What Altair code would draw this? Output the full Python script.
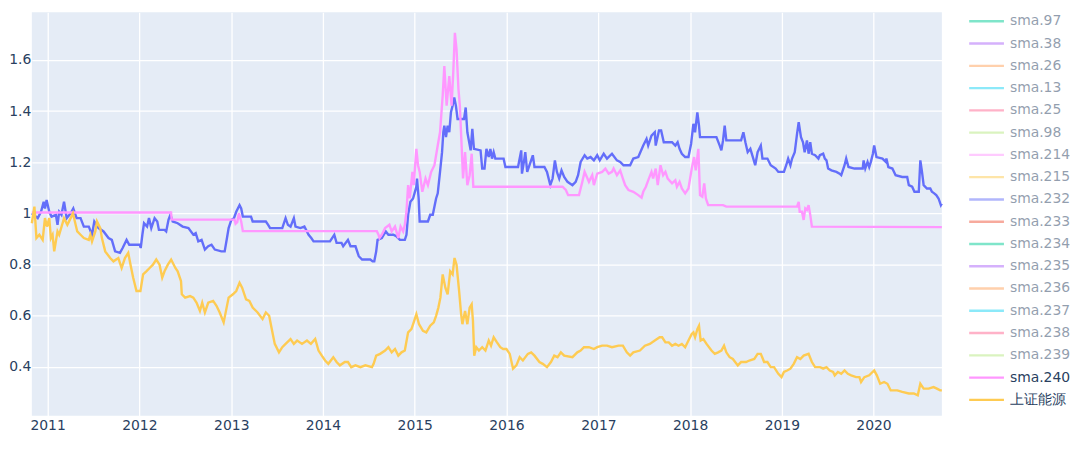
import altair as alt
import pandas as pd

# ---- data: (decimal year, value) ----
X_START = 2010.828
X_END = 2020.743
Y_MIN = 0.208
Y_MAX = 1.786

sma38 = [
    (2010.828, 1.000), (2010.892, 0.981), (2010.928, 1.006), (2010.957, 1.045), (2010.971, 1.019),
    (2010.989, 1.052), (2011.018, 1.006), (2011.043, 0.987), (2011.090, 0.994), (2011.108, 0.955),
    (2011.126, 1.006), (2011.151, 0.994), (2011.179, 1.045), (2011.208, 0.981), (2011.251, 1.000),
    (2011.280, 1.019), (2011.316, 0.981), (2011.359, 0.981), (2011.395, 0.948), (2011.449, 0.948),
    (2011.484, 0.916), (2011.509, 0.968), (2011.556, 0.942), (2011.610, 0.929), (2011.664, 0.903),
    (2011.700, 0.896), (2011.736, 0.851), (2011.789, 0.845), (2011.818, 0.864), (2011.861, 0.896),
    (2011.890, 0.877), (2012.005, 0.877), (2012.015, 0.864), (2012.033, 0.916), (2012.051, 0.961),
    (2012.084, 0.948), (2012.105, 0.981), (2012.130, 0.942), (2012.166, 0.981), (2012.195, 0.968),
    (2012.213, 0.935), (2012.274, 0.935), (2012.292, 0.929), (2012.317, 0.974), (2012.338, 0.994),
    (2012.363, 0.968), (2012.417, 0.961), (2012.471, 0.948), (2012.534, 0.942), (2012.587, 0.916),
    (2012.613, 0.922), (2012.641, 0.890), (2012.677, 0.896), (2012.713, 0.858), (2012.749, 0.871),
    (2012.785, 0.877), (2012.821, 0.858), (2012.892, 0.851), (2012.928, 0.851), (2012.953, 0.903),
    (2012.971, 0.942), (2013.000, 0.974), (2013.029, 0.981), (2013.054, 1.006), (2013.090, 1.032),
    (2013.108, 1.019), (2013.126, 0.987), (2013.215, 0.987), (2013.233, 0.968), (2013.377, 0.968),
    (2013.402, 0.955), (2013.423, 0.942), (2013.520, 0.942), (2013.556, 0.942), (2013.592, 0.981),
    (2013.617, 0.955), (2013.646, 0.948), (2013.682, 0.981), (2013.700, 0.948), (2013.753, 0.942),
    (2013.797, 0.948), (2013.843, 0.916), (2013.872, 0.903), (2013.897, 0.890), (2014.076, 0.890),
    (2014.123, 0.916), (2014.148, 0.884), (2014.202, 0.884), (2014.220, 0.871), (2014.272, 0.896),
    (2014.300, 0.871), (2014.354, 0.871), (2014.390, 0.832), (2014.426, 0.819), (2014.516, 0.819),
    (2014.541, 0.812), (2014.559, 0.812), (2014.580, 0.851), (2014.595, 0.896), (2014.641, 0.903),
    (2014.684, 0.929), (2014.713, 0.916), (2014.767, 0.916), (2014.803, 0.909), (2014.839, 0.896),
    (2014.892, 0.896), (2014.910, 0.916), (2014.928, 0.994), (2014.953, 1.045), (2014.982, 1.058),
    (2015.018, 1.104), (2015.025, 1.136), (2015.043, 1.058), (2015.054, 0.968), (2015.144, 0.968),
    (2015.169, 0.994), (2015.197, 0.994), (2015.233, 1.058), (2015.251, 1.078), (2015.276, 1.162),
    (2015.298, 1.239), (2015.312, 1.317), (2015.323, 1.343), (2015.341, 1.298), (2015.359, 1.343),
    (2015.377, 1.317), (2015.395, 1.395), (2015.413, 1.421), (2015.431, 1.453), (2015.449, 1.421),
    (2015.467, 1.369), (2015.538, 1.369), (2015.556, 1.414), (2015.574, 1.317), (2015.610, 1.246),
    (2015.628, 1.330), (2015.646, 1.252), (2015.718, 1.246), (2015.736, 1.175), (2015.761, 1.175),
    (2015.782, 1.252), (2015.807, 1.220), (2015.825, 1.252), (2015.843, 1.214), (2015.861, 1.239),
    (2015.879, 1.214), (2015.969, 1.214), (2015.989, 1.181), (2016.126, 1.181), (2016.144, 1.214),
    (2016.161, 1.246), (2016.169, 1.155), (2016.190, 1.201), (2016.205, 1.239), (2016.226, 1.162),
    (2016.251, 1.188), (2016.287, 1.227), (2016.305, 1.181), (2016.413, 1.181), (2016.441, 1.162),
    (2016.477, 1.110), (2016.502, 1.136), (2016.527, 1.207), (2016.549, 1.162), (2016.574, 1.136),
    (2016.599, 1.168), (2016.628, 1.142), (2016.664, 1.123), (2016.718, 1.110), (2016.753, 1.123),
    (2016.779, 1.149), (2016.807, 1.201), (2016.850, 1.227), (2016.879, 1.214), (2016.915, 1.220),
    (2016.951, 1.207), (2016.987, 1.227), (2017.015, 1.207), (2017.058, 1.233), (2017.094, 1.214),
    (2017.148, 1.233), (2017.202, 1.207), (2017.238, 1.201), (2017.274, 1.188), (2017.346, 1.188),
    (2017.381, 1.214), (2017.435, 1.220), (2017.489, 1.265), (2017.525, 1.291), (2017.543, 1.265),
    (2017.579, 1.304), (2017.615, 1.317), (2017.625, 1.265), (2017.661, 1.324), (2017.684, 1.324),
    (2017.713, 1.278), (2017.803, 1.278), (2017.839, 1.265), (2017.864, 1.278), (2017.885, 1.252),
    (2017.910, 1.233), (2017.946, 1.220), (2017.982, 1.220), (2018.011, 1.272), (2018.036, 1.350),
    (2018.054, 1.317), (2018.079, 1.395), (2018.097, 1.343), (2018.108, 1.298), (2018.287, 1.298),
    (2018.323, 1.265), (2018.341, 1.246), (2018.359, 1.285), (2018.377, 1.343), (2018.395, 1.285),
    (2018.556, 1.285), (2018.581, 1.317), (2018.603, 1.278), (2018.628, 1.239), (2018.657, 1.252),
    (2018.689, 1.214), (2018.710, 1.188), (2018.736, 1.239), (2018.771, 1.265), (2018.789, 1.214),
    (2018.843, 1.214), (2018.879, 1.188), (2018.933, 1.175), (2018.962, 1.162), (2019.023, 1.162),
    (2019.048, 1.188), (2019.069, 1.214), (2019.094, 1.188), (2019.112, 1.214), (2019.141, 1.239),
    (2019.166, 1.311), (2019.184, 1.356), (2019.209, 1.298), (2019.231, 1.278), (2019.249, 1.239),
    (2019.274, 1.285), (2019.292, 1.233), (2019.310, 1.278), (2019.328, 1.233), (2019.363, 1.227),
    (2019.399, 1.214), (2019.415, 1.227), (2019.451, 1.233), (2019.469, 1.214), (2019.487, 1.207),
    (2019.505, 1.175), (2019.541, 1.168), (2019.595, 1.162), (2019.630, 1.155), (2019.648, 1.149),
    (2019.684, 1.188), (2019.702, 1.214), (2019.727, 1.181), (2019.792, 1.175), (2019.882, 1.175),
    (2019.892, 1.207), (2019.910, 1.175), (2019.935, 1.201), (2019.953, 1.181), (2019.971, 1.201),
    (2019.993, 1.233), (2020.007, 1.265), (2020.032, 1.220), (2020.097, 1.214), (2020.133, 1.201),
    (2020.140, 1.214), (2020.161, 1.181), (2020.205, 1.175), (2020.240, 1.149), (2020.312, 1.142),
    (2020.366, 1.142), (2020.384, 1.110), (2020.420, 1.104), (2020.445, 1.084), (2020.492, 1.084),
    (2020.509, 1.207), (2020.527, 1.162), (2020.545, 1.110), (2020.581, 1.097), (2020.617, 1.097),
    (2020.635, 1.084), (2020.660, 1.078), (2020.682, 1.071), (2020.707, 1.058), (2020.732, 1.032),
    (2020.743, 1.039),
]

sma240 = [
    (2010.828, 1.003), (2012.345, 1.003), (2012.352, 0.975), (2013.036, 0.975), (2013.047, 0.959),
    (2013.065, 0.965), (2013.083, 1.000), (2013.108, 0.968), (2013.126, 0.930), (2014.587, 0.930),
    (2014.605, 0.916), (2014.616, 0.903), (2014.641, 0.916), (2014.677, 0.942), (2014.724, 0.955),
    (2014.749, 0.929), (2014.785, 0.948), (2014.821, 0.903), (2014.846, 0.948), (2014.874, 0.929),
    (2014.892, 0.955), (2014.910, 1.006), (2014.928, 1.110), (2014.946, 1.058), (2014.975, 1.162),
    (2014.989, 1.110), (2015.018, 1.252), (2015.036, 1.188), (2015.054, 1.162), (2015.083, 1.084),
    (2015.118, 1.136), (2015.144, 1.110), (2015.179, 1.162), (2015.215, 1.188), (2015.251, 1.265),
    (2015.276, 1.317), (2015.305, 1.460), (2015.323, 1.576), (2015.348, 1.421), (2015.377, 1.537),
    (2015.402, 1.421), (2015.420, 1.550), (2015.438, 1.706), (2015.456, 1.641), (2015.477, 1.485),
    (2015.492, 1.421), (2015.513, 1.252), (2015.527, 1.136), (2015.549, 1.239), (2015.574, 1.110),
    (2015.599, 1.149), (2015.621, 1.233), (2015.639, 1.104), (2016.610, 1.104), (2016.646, 1.091),
    (2016.671, 1.071), (2016.789, 1.071), (2016.825, 1.123), (2016.850, 1.162), (2016.897, 1.123),
    (2016.933, 1.149), (2016.951, 1.110), (2016.987, 1.155), (2017.041, 1.162), (2017.076, 1.175),
    (2017.112, 1.155), (2017.148, 1.162), (2017.166, 1.175), (2017.202, 1.149), (2017.238, 1.168),
    (2017.267, 1.136), (2017.292, 1.110), (2017.328, 1.091), (2017.381, 1.084), (2017.435, 1.071),
    (2017.471, 1.061), (2017.489, 1.084), (2017.518, 1.104), (2017.543, 1.129), (2017.579, 1.162),
    (2017.597, 1.136), (2017.625, 1.175), (2017.647, 1.110), (2017.677, 1.188), (2017.706, 1.149),
    (2017.731, 1.162), (2017.756, 1.136), (2017.803, 1.117), (2017.839, 1.129), (2017.856, 1.104),
    (2017.885, 1.123), (2017.910, 1.097), (2017.946, 1.078), (2017.982, 1.097), (2018.018, 1.175),
    (2018.043, 1.220), (2018.061, 1.168), (2018.090, 1.252), (2018.108, 1.071), (2018.133, 1.065),
    (2018.154, 1.117), (2018.172, 1.058), (2018.197, 1.032), (2018.359, 1.032), (2018.395, 1.026),
    (2019.166, 1.026), (2019.184, 1.045), (2019.195, 1.006), (2019.220, 1.006), (2019.238, 0.974),
    (2019.256, 1.019), (2019.274, 1.013), (2019.292, 1.032), (2019.310, 0.994), (2019.328, 0.948),
    (2020.743, 0.946),
]

energy = [
    (2010.828, 0.961), (2010.856, 1.026), (2010.878, 0.903), (2010.910, 0.916), (2010.946, 0.896),
    (2010.971, 0.981), (2010.993, 0.948), (2011.018, 0.981), (2011.036, 0.903), (2011.054, 0.916),
    (2011.072, 0.851), (2011.108, 0.929), (2011.126, 0.916), (2011.179, 0.981), (2011.215, 0.955),
    (2011.251, 0.981), (2011.276, 1.000), (2011.323, 0.929), (2011.359, 0.916), (2011.395, 0.903),
    (2011.449, 0.896), (2011.466, 0.916), (2011.484, 0.890), (2011.520, 0.929), (2011.538, 0.968),
    (2011.574, 0.942), (2011.592, 0.903), (2011.628, 0.851), (2011.682, 0.825), (2011.718, 0.812),
    (2011.771, 0.825), (2011.807, 0.786), (2011.843, 0.825), (2011.879, 0.845), (2011.904, 0.799),
    (2011.933, 0.748), (2011.969, 0.696), (2012.012, 0.696), (2012.041, 0.761), (2012.076, 0.773),
    (2012.112, 0.786), (2012.148, 0.799), (2012.184, 0.819), (2012.220, 0.799), (2012.249, 0.748),
    (2012.274, 0.773), (2012.310, 0.799), (2012.346, 0.819), (2012.392, 0.786), (2012.417, 0.773),
    (2012.453, 0.735), (2012.462, 0.683), (2012.498, 0.670), (2012.552, 0.676), (2012.587, 0.670),
    (2012.623, 0.650), (2012.659, 0.618), (2012.684, 0.650), (2012.713, 0.612), (2012.749, 0.650),
    (2012.803, 0.657), (2012.839, 0.638), (2012.874, 0.612), (2012.917, 0.573), (2012.946, 0.625),
    (2012.971, 0.670), (2013.018, 0.683), (2013.054, 0.696), (2013.090, 0.728), (2013.118, 0.709),
    (2013.161, 0.663), (2013.197, 0.657), (2013.233, 0.631), (2013.287, 0.612), (2013.341, 0.586),
    (2013.377, 0.612), (2013.413, 0.599), (2013.438, 0.553), (2013.474, 0.489), (2013.520, 0.456),
    (2013.556, 0.476), (2013.592, 0.489), (2013.646, 0.508), (2013.682, 0.489), (2013.718, 0.502),
    (2013.771, 0.489), (2013.825, 0.502), (2013.868, 0.489), (2013.915, 0.508), (2013.951, 0.463),
    (2013.987, 0.443), (2014.023, 0.424), (2014.058, 0.411), (2014.112, 0.437), (2014.148, 0.418),
    (2014.184, 0.405), (2014.238, 0.418), (2014.272, 0.418), (2014.308, 0.398), (2014.354, 0.405),
    (2014.408, 0.398), (2014.462, 0.405), (2014.534, 0.398), (2014.552, 0.411), (2014.580, 0.443),
    (2014.623, 0.450), (2014.677, 0.463), (2014.713, 0.476), (2014.749, 0.456), (2014.785, 0.469),
    (2014.821, 0.443), (2014.856, 0.456), (2014.892, 0.463), (2014.928, 0.534), (2014.964, 0.547),
    (2014.989, 0.573), (2015.018, 0.605), (2015.047, 0.566), (2015.090, 0.540), (2015.126, 0.534),
    (2015.169, 0.560), (2015.208, 0.573), (2015.233, 0.599), (2015.258, 0.631), (2015.280, 0.670),
    (2015.305, 0.761), (2015.334, 0.709), (2015.359, 0.683), (2015.387, 0.773), (2015.413, 0.761),
    (2015.434, 0.825), (2015.456, 0.799), (2015.484, 0.696), (2015.506, 0.605), (2015.520, 0.566),
    (2015.549, 0.618), (2015.574, 0.566), (2015.599, 0.631), (2015.621, 0.644), (2015.635, 0.579),
    (2015.649, 0.443), (2015.671, 0.476), (2015.700, 0.463), (2015.736, 0.476), (2015.771, 0.463),
    (2015.807, 0.502), (2015.832, 0.482), (2015.861, 0.515), (2015.897, 0.495), (2015.933, 0.476),
    (2015.964, 0.469), (2016.000, 0.469), (2016.036, 0.450), (2016.072, 0.392), (2016.108, 0.405),
    (2016.144, 0.437), (2016.179, 0.424), (2016.233, 0.450), (2016.269, 0.456), (2016.305, 0.443),
    (2016.359, 0.418), (2016.395, 0.411), (2016.441, 0.398), (2016.484, 0.418), (2016.520, 0.443),
    (2016.556, 0.437), (2016.592, 0.456), (2016.628, 0.443), (2016.718, 0.437), (2016.771, 0.456),
    (2016.807, 0.463), (2016.843, 0.476), (2016.897, 0.476), (2016.951, 0.469), (2016.987, 0.476),
    (2017.041, 0.482), (2017.094, 0.482), (2017.148, 0.476), (2017.220, 0.482), (2017.267, 0.482),
    (2017.310, 0.456), (2017.346, 0.443), (2017.381, 0.456), (2017.453, 0.463), (2017.507, 0.482),
    (2017.561, 0.489), (2017.615, 0.502), (2017.668, 0.515), (2017.695, 0.515), (2017.731, 0.495),
    (2017.767, 0.495), (2017.803, 0.482), (2017.839, 0.489), (2017.874, 0.482), (2017.910, 0.489),
    (2017.946, 0.476), (2017.982, 0.502), (2018.018, 0.528), (2018.036, 0.534), (2018.054, 0.515),
    (2018.079, 0.547), (2018.097, 0.560), (2018.115, 0.502), (2018.144, 0.508), (2018.179, 0.489),
    (2018.233, 0.463), (2018.269, 0.450), (2018.305, 0.456), (2018.341, 0.463), (2018.370, 0.482),
    (2018.395, 0.456), (2018.431, 0.437), (2018.466, 0.430), (2018.520, 0.405), (2018.556, 0.418),
    (2018.610, 0.418), (2018.646, 0.424), (2018.700, 0.430), (2018.736, 0.450), (2018.771, 0.450),
    (2018.807, 0.418), (2018.843, 0.418), (2018.879, 0.398), (2018.915, 0.398), (2018.962, 0.372),
    (2018.997, 0.359), (2019.023, 0.379), (2019.058, 0.385), (2019.094, 0.392), (2019.130, 0.411),
    (2019.166, 0.437), (2019.202, 0.430), (2019.238, 0.443), (2019.292, 0.450), (2019.328, 0.418),
    (2019.363, 0.398), (2019.417, 0.398), (2019.451, 0.392), (2019.487, 0.398), (2019.523, 0.385),
    (2019.559, 0.379), (2019.577, 0.366), (2019.612, 0.379), (2019.648, 0.372), (2019.684, 0.385),
    (2019.720, 0.372), (2019.756, 0.366), (2019.810, 0.359), (2019.846, 0.359), (2019.864, 0.340),
    (2019.900, 0.359), (2019.953, 0.366), (2019.989, 0.379), (2020.007, 0.385), (2020.036, 0.366),
    (2020.072, 0.333), (2020.115, 0.340), (2020.151, 0.333), (2020.187, 0.307), (2020.222, 0.307),
    (2020.258, 0.307), (2020.312, 0.301), (2020.384, 0.295), (2020.438, 0.295), (2020.481, 0.288),
    (2020.509, 0.333), (2020.545, 0.314), (2020.599, 0.314), (2020.653, 0.320), (2020.689, 0.314),
    (2020.725, 0.307), (2020.743, 0.307),
]

legend_names = ["sma.97", "sma.38", "sma.26", "sma.13", "sma.25", "sma.98", "sma.214", "sma.215",
                "sma.232", "sma.233", "sma.234", "sma.235", "sma.236", "sma.237", "sma.238",
                "sma.239", "sma.240", "上证能源"]
legend_colors = ["#00CC96", "#AB63FA", "#FFA15A", "#19D3F3", "#FF6692", "#B6E880", "#FF97FF",
                 "#FECB52", "#636EFA", "#EF553B", "#00CC96", "#AB63FA", "#FFA15A", "#19D3F3",
                 "#FF6692", "#B6E880", "#FF97FF", "#FECB52"]
legend_shown = [False] * 16 + [True, True]

y_ticks = [0.4, 0.6, 0.8, 1, 1.2, 1.4, 1.6]
x_years = list(range(2011, 2021))

FONT = "DejaVu Sans"
TXT = "#2a3f5f"


def to_ts(t):
    y = int(t)
    start = pd.Timestamp(year=y, month=1, day=1)
    end = pd.Timestamp(year=y + 1, month=1, day=1)
    return start + (end - start) * (t - y)


def to_dt(t):
    ts = to_ts(t)
    return alt.DateTime(year=ts.year, month=ts.month, date=ts.day, hours=ts.hour, minutes=ts.minute)


def frame(points, color):
    return pd.DataFrame({
        "date": [to_ts(t).strftime("%Y-%m-%dT%H:%M:%S") for t, _ in points],
        "value": [v for _, v in points],
        "color": color,
    })


x_enc = alt.X(
    "date:T",
    title=None,
    scale=alt.Scale(domain=[to_dt(X_START), to_dt(X_END)], nice=False),
    axis=alt.Axis(values=[alt.DateTime(year=y, month=1, date=1) for y in x_years], format="%Y",
                  labelFlush=False, labelOverlap=False, labelPadding=3),
)
y_enc = alt.Y(
    "value:Q",
    title=None,
    scale=alt.Scale(domain=[Y_MIN, Y_MAX], nice=False, zero=False),
    axis=alt.Axis(values=y_ticks, format="~g", labelPadding=1),
)


def line(points, color):
    return alt.Chart(frame(points, color)).mark_line(strokeWidth=2.4).encode(
        x=x_enc, y=y_enc, color=alt.Color("color:N", scale=None)
    )


main = alt.layer(
    line(sma38, "#636EFA"),
    line(sma240, "#FF97FF"),
    line(energy, "#FECB52"),
).properties(width=916, height=406, view=alt.ViewBackground(fill="#E5ECF6", stroke=None))

leg_df = pd.DataFrame({
    "name": legend_names,
    "color": legend_colors,
    "op": [1.0 if s else 0.5 for s in legend_shown],
})
y_leg = alt.Y("name:N", sort=legend_names, axis=None, scale=alt.Scale(type="point", padding=0.4))
leg_lines = alt.Chart(leg_df).mark_rule(strokeWidth=2.4).encode(
    x=alt.value(0), x2=alt.value(35), y=y_leg,
    color=alt.Color("color:N", scale=None),
    opacity=alt.Opacity("op:Q", scale=None),
)
leg_text = alt.Chart(leg_df).mark_text(
    align="left", baseline="middle", font=FONT, fontSize=14, color=TXT
).encode(
    x=alt.value(41), y=y_leg, text="name:N",
    opacity=alt.Opacity("op:Q", scale=None),
)
legend = alt.layer(leg_lines, leg_text).properties(
    width=103, height=399, view=alt.ViewBackground(fill=None, stroke=None)
)

chart = alt.hconcat(main, legend, spacing=20.5).properties(
    padding={"left": 0, "top": 3, "right": 0, "bottom": 0},
    background="white",
).configure_view(stroke=None).configure_axis(
    grid=True, gridColor="white", gridWidth=1.3, domain=False, ticks=False, tickSize=0,
    labelFont=FONT, labelFontSize=14, labelColor=TXT, title=None,
)

chart.save("out.html", embed_options={"renderer": "svg", "actions": False})
